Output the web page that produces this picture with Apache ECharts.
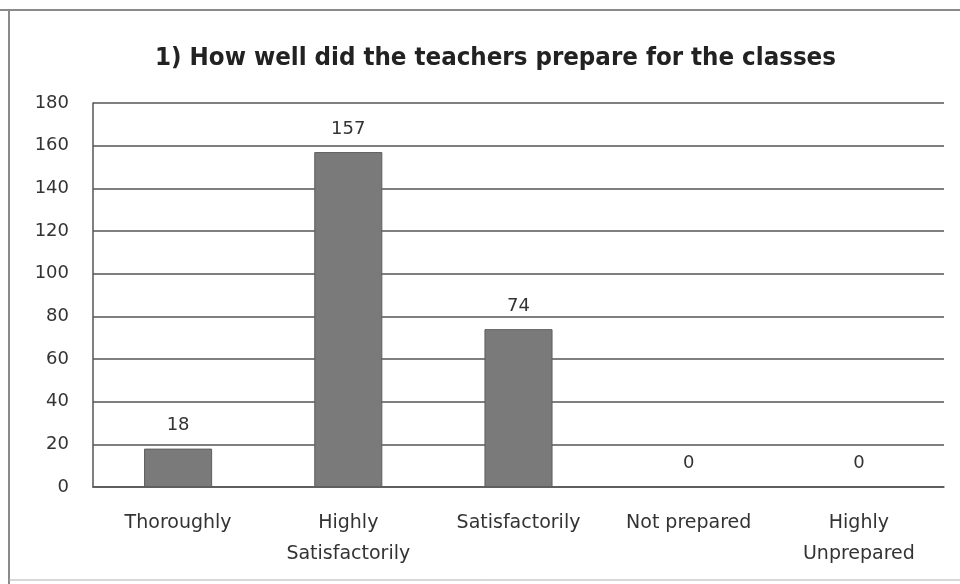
<!DOCTYPE html>
<html>
<head>
<meta charset="utf-8">
<script src="https://cdn.jsdelivr.net/npm/echarts@6/dist/echarts.min.js"></script>
<style>
html,body{margin:0;padding:0;background:#fff;}
#chart{width:960px;height:584px;}
</style>
</head>
<body>
<div id="chart"></div>
<script>
const titleText = '1) How well did the teachers prepare for the classes';
const categories = ['Thoroughly', 'Highly\nSatisfactorily', 'Satisfactorily', 'Not prepared', 'Highly\nUnprepared'];
const values = [18, 157, 74, 0, 0];
const yTicks = { min: 0, max: 180, interval: 20 };

const FONT = '"Liberation Sans Narrow", "DejaVu Sans Condensed", "Open Sans", sans-serif';
const FONT2 = '"DejaVu Sans", "Open Sans", sans-serif';
const chart = echarts.init(document.getElementById('chart'));
chart.setOption({
  backgroundColor: '#ffffff',
  animation: false,
  title: {
    text: titleText,
    left: 150,
    top: 40,
    textStyle: { fontFamily: FONT, fontSize: 25.6, fontWeight: 'bold', color: '#222' }
  },
  graphic: [
    { type: 'line', shape: { x1: 0, y1: 10, x2: 960, y2: 10 }, style: { stroke: '#8a8a8a', lineWidth: 2 } },
    { type: 'line', shape: { x1: 9, y1: 10, x2: 9, y2: 584 }, style: { stroke: '#8a8a8a', lineWidth: 2 } },
    { type: 'line', shape: { x1: 9, y1: 580, x2: 960, y2: 580 }, style: { stroke: '#b0b0b0', lineWidth: 1 } }
  ],
  grid: { left: 93, right: 16, top: 103, bottom: 97, containLabel: false },
  xAxis: {
    type: 'category',
    data: categories,
    axisLine: { show: true, lineStyle: { color: '#555', width: 1.5 } },
    axisTick: { show: false },
    axisLabel: { fontFamily: FONT2, fontSize: 19, color: '#333', margin: 21, lineHeight: 31, interval: 0 }
  },
  yAxis: {
    type: 'value',
    min: yTicks.min, max: yTicks.max, interval: yTicks.interval,
    axisLine: { show: true, lineStyle: { color: '#555', width: 1.5 } },
    axisTick: { show: false },
    splitLine: { lineStyle: { color: '#555', width: 1.5 } },
    axisLabel: { fontFamily: FONT2, fontSize: 18, color: '#333', margin: 24 }
  },
  series: [{
    type: 'bar',
    data: values,
    barWidth: '40%',
    itemStyle: { color: '#7a7a7a', borderColor: '#5e5e5e', borderWidth: 1 },
    label: { show: true, position: 'top', distance: 14, fontFamily: FONT2, fontSize: 18, color: '#333' }
  }]
});
</script>
</body>
</html>
